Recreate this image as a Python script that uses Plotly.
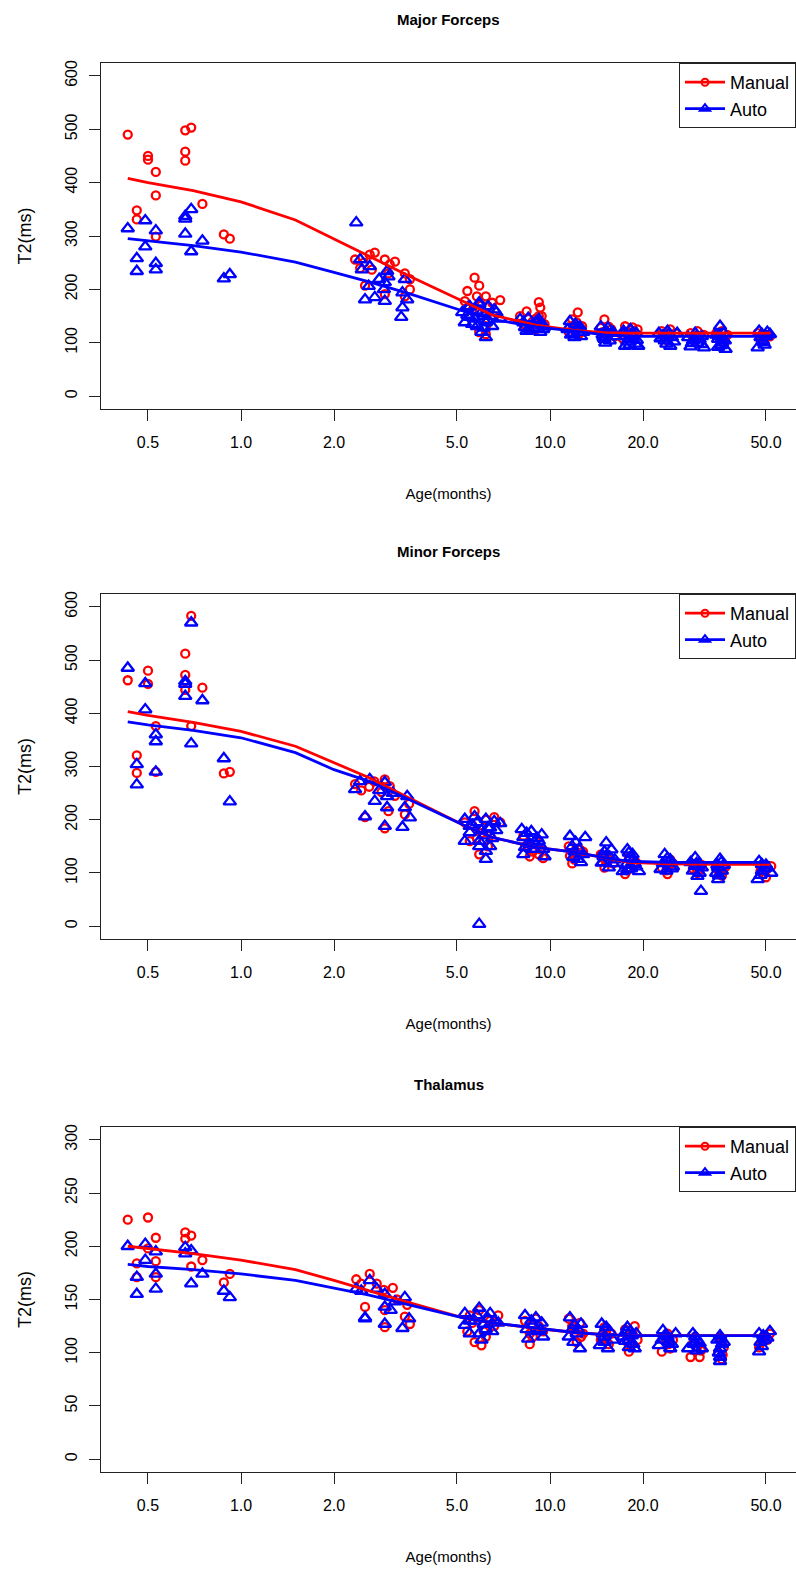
import plotly.graph_objects as go

# ---------------- data ----------------
# Fitted curves (shared x positions)
fit_age = [0.43, 0.5, 0.7, 1.0, 1.5, 2.0, 2.6, 3.5, 5.2, 6.5, 9.0, 12.0, 15.0, 18.0, 24.0, 30.0, 36.0, 51.6]

# Panel 1: Major Forceps
p1_fit_manual = [408, 400, 385, 364, 330, 295, 262, 225, 178, 152, 133, 123, 119, 118, 118, 118, 118, 118]
p1_fit_auto = [295, 291, 282, 270, 251, 232, 214, 192, 160, 144, 130, 122, 115, 112, 112, 112, 112, 112]

p1_age_manual = [0.43, 0.46, 0.46, 0.50, 0.50, 0.53, 0.53, 0.53, 0.66, 0.69, 0.66, 0.66, 0.75, 0.88, 0.92,
                 2.34, 2.43, 2.52, 2.61, 2.71, 2.65, 2.92, 3.03, 2.92, 3.0, 3.15, 3.39, 3.52, 3.52, 3.39, 2.5,
                 5.4, 5.3, 5.7, 5.9, 5.8, 6.2, 6.3, 6.9, 6.2, 5.9, 6.2, 5.6, 6.0, 6.5, 6.6,
                 8.0, 8.4, 9.2, 9.3, 9.2, 8.8, 8.6, 9.6, 9.0, 9.4, 8.2, 9.0,
                 12.3, 11.8, 12.7, 12.0, 11.5, 12.5, 12.2, 11.9,
                 15.0, 14.6, 15.8, 15.3, 16.2, 15.5, 14.8,
                 17.5, 18.5, 19.2, 18.0, 18.8, 17.2, 18.2, 18.8, 17.8,
                 23.0, 24.5, 25.5, 23.5, 24.0, 24.5, 23.2,
                 28.5, 30.0, 31.5, 29.5, 30.5, 30.5, 29.0,
                 34.5, 36.0, 37.5, 35.5, 36.5, 36.0, 35.0,
                 47.0, 49.0, 51.5, 48.0, 50.0, 48.5]
p1_t2_manual = [490, 348, 331, 450, 443, 420, 376, 299, 498, 503, 458, 441, 360, 303, 295,
                256, 240, 207, 265, 269, 237, 256, 247, 191, 230, 252, 230, 219, 200, 187, 250,
                197, 178, 222, 207, 187, 187, 168, 180, 131, 120, 116, 160, 170, 175, 150,
                150, 159, 176, 166, 150, 140, 130, 135, 125, 150, 135, 145,
                157, 144, 131, 125, 120, 118, 138, 132,
                144, 128, 125, 118, 112, 130, 120,
                131, 129, 125, 118, 112, 108, 124, 120, 115,
                122, 125, 118, 110, 104, 114, 116,
                118, 122, 115, 106, 100, 112, 110,
                118, 122, 115, 105, 98, 110, 113,
                118, 112, 112, 105, 115, 110]
p1_age_auto = [0.43, 0.46, 0.46, 0.49, 0.49, 0.53, 0.53, 0.53, 0.66, 0.66, 0.66, 0.69, 0.69, 0.75, 0.88, 0.92, 2.36,
               2.43, 2.46, 2.61, 2.59, 2.52, 2.71, 2.92, 2.97, 3.0, 2.92, 2.90, 3.39, 3.33, 3.45, 3.33, 3.30, 2.8,
               5.2, 5.5, 5.9, 6.3, 6.7, 5.3, 5.8, 6.2, 6.5, 6.2, 5.5, 6.0, 5.7, 6.1, 6.9, 5.4, 6.4,
               5.4, 5.8, 6.1, 6.6, 6.0, 5.6, 6.3, 5.9,
               8.0, 8.5, 9.2, 8.3, 9.5, 8.8, 9.0, 9.6, 8.6, 9.3, 8.2, 8.9, 9.4, 8.4, 9.1,
               11.6, 12.2, 12.0, 12.8, 11.4, 12.5, 11.9, 12.1, 11.7, 12.6, 12.3,
               14.6, 15.2, 15.8, 15.0, 16.3, 14.8, 15.4, 14.9, 15.6, 15.1, 16.0,
               17.3, 18.2, 19.0, 18.0, 17.5, 19.3, 18.6, 17.8, 18.3, 17.6, 19.1, 18.9, 17.4, 18.1,
               22.5, 24.0, 25.8, 23.5, 24.5, 22.8, 23.2, 24.8, 23.8, 25.2, 24.2,
               28.0, 29.5, 31.0, 30.0, 28.5, 31.5, 29.0, 30.5, 29.8, 31.0, 28.8,
               35.5, 34.5, 36.5, 35.0, 36.0, 37.0, 35.2, 36.2, 35.8, 36.8, 35.0,
               47.5, 51.5, 48.0, 49.0, 47.0, 48.5, 50.0, 48.8, 49.5, 50.5]
p1_t2_auto = [314, 258, 234, 329, 280, 310, 249, 237, 337, 332, 304, 350, 271, 291, 220, 228, 325,
              256, 237, 243, 206, 181, 185, 178, 234, 224, 213, 200, 219, 194, 181, 166, 148, 219,
              157, 168, 175, 168, 157, 138, 131, 138, 131, 110, 148, 157, 145, 150, 145, 165, 150,
              152, 160, 128, 162, 120, 135, 142, 172,
              144, 146, 144, 129, 125, 135, 138, 130, 125, 120, 138, 128, 132, 122, 140,
              140, 125, 110, 120, 125, 130, 118, 135, 115, 112, 128,
              130, 122, 118, 107, 112, 115, 128, 110, 104, 100, 120,
              122, 125, 118, 107, 94, 94, 112, 102, 116, 112, 105, 98, 118, 96,
              118, 122, 118, 104, 94, 108, 113, 110, 98, 102, 116,
              110, 118, 112, 100, 93, 91, 104, 106, 112, 97, 99,
              131, 115, 118, 107, 100, 88, 112, 108, 95, 104, 92,
              122, 116, 110, 101, 91, 116, 112, 104, 96, 120]

# Panel 2: Minor Forceps
p2_fit_manual = [403, 396, 383, 366, 338, 307, 279, 241, 191, 167, 148, 139, 128, 120, 117, 116, 116, 116]
p2_fit_auto = [384, 378, 368, 354, 326, 294, 272, 238, 191, 167, 148, 139, 129, 122, 120, 120, 120, 120]

p2_age_manual = [0.43, 0.46, 0.46, 0.50, 0.50, 0.53, 0.53, 0.66, 0.66, 0.66, 0.69, 0.69, 0.75, 0.88, 0.92,
                 2.34, 2.45, 2.6, 2.7, 2.92, 3.03, 2.85, 3.0, 2.92, 3.39, 3.5, 3.15, 2.52,
                 5.7, 5.9, 5.3, 5.6, 6.2, 6.6, 6.9, 6.0, 6.4, 5.5, 6.3, 5.8,
                 8.3, 8.6, 9.5, 9.0, 8.2, 9.3, 8.8, 8.5, 9.2,
                 12.5, 11.8, 11.5, 12.2, 12.0, 12.8, 11.6,
                 15.0, 15.5, 14.6, 16.0, 15.2, 14.9,
                 17.5, 18.2, 19.0, 18.0, 18.5, 17.8,
                 24.0, 23.0, 25.0, 24.5, 23.8, 24.2,
                 30.0, 29.0, 31.0, 30.5, 29.5,
                 36.0, 35.0, 37.0, 35.5, 36.5,
                 50.0, 52.0, 48.0, 49.0, 50.5]
p2_t2_manual = [462, 321, 288, 480, 455, 376, 290, 512, 472, 444, 583, 376, 448, 287, 290,
                267, 255, 262, 272, 276, 263, 252, 216, 184, 210, 230, 245, 205,
                216, 135, 195, 190, 200, 205, 195, 175, 170, 160, 150, 165,
                150, 131, 128, 160, 170, 145, 140, 150, 135,
                144, 118, 150, 135, 125, 140, 132,
                110, 125, 135, 118, 120, 128,
                98, 110, 120, 130, 115, 105,
                98, 110, 118, 125, 105, 115,
                100, 108, 115, 105, 112,
                95, 105, 112, 100, 108,
                92, 113, 104, 98, 108]
p2_age_auto = [0.43, 0.46, 0.46, 0.49, 0.49, 0.53, 0.53, 0.53, 0.66, 0.66, 0.66, 0.69, 0.69, 0.75, 0.88, 0.92,
               2.34, 2.43, 2.52, 2.61, 2.71, 2.92, 2.97, 2.97, 2.92, 3.39, 3.45, 3.52, 3.33, 2.8, 3.1,
               5.9, 5.3, 5.7, 6.2, 6.6, 6.9, 5.5, 6.0, 5.3, 5.9, 6.2, 6.2, 6.4, 5.6, 6.5,
               5.8, 6.3, 5.5, 6.1, 6.7, 5.9, 6.4,
               8.1, 8.7, 9.4, 8.2, 8.6, 9.0, 8.2, 9.6, 9.2, 8.8, 8.4, 9.1, 8.9, 9.5, 8.3,
               11.6, 13.0, 11.8, 12.3, 12.6, 12.0, 12.8, 12.1, 11.9, 12.4,
               15.2, 15.8, 14.9, 14.7, 16.2, 15.5, 15.0, 15.6, 14.8, 16.0,
               17.8, 18.2, 17.8, 17.2, 19.4, 18.8, 18.5, 18.0, 18.6, 17.6, 19.0, 18.3,
               23.5, 24.2, 22.8, 25.0, 24.5, 24.0, 23.2, 24.8, 23.8,
               29.5, 29.5, 30.0, 30.8, 28.5, 31.0, 29.8, 29.0, 30.5, 30.2,
               35.5, 35.0, 35.0, 36.5, 34.5, 35.8, 36.0, 35.2, 34.8,
               47.5, 48.5, 47.0, 50.5, 52.0, 48.5, 49.5, 48.0, 50.0]
p2_t2_auto = [485, 304, 266, 456, 407, 360, 347, 290, 460, 455, 432, 570, 343, 424, 315, 234,
              257, 272, 206, 276, 235, 270, 244, 223, 188, 223, 244, 204, 186, 255, 250,
              4, 201, 206, 201, 197, 193, 176, 180, 160, 150, 141, 126, 185, 190, 165,
              195, 185, 188, 170, 180, 160, 150,
              182, 178, 172, 167, 154, 152, 135, 131, 160, 145, 175, 165, 158, 145, 148,
              169, 167, 150, 126, 120, 140, 135, 158, 130, 145,
              157, 144, 131, 119, 125, 110, 140, 130, 120, 118,
              144, 129, 107, 103, 103, 118, 135, 138, 125, 115, 112, 108,
              135, 119, 107, 112, 125, 128, 118, 108, 104,
              129, 113, 94, 66, 120, 110, 118, 104, 100, 115,
              126, 110, 88, 115, 100, 120, 104, 95, 115,
              122, 104, 88, 110, 100, 116, 108, 96, 115]

# Panel 3: Thalamus
p3_fit_manual = [200, 198, 193, 187, 178, 168, 158, 147, 133, 128, 123, 119, 117, 116, 116, 116, 116, 116]
p3_fit_auto = [183, 181, 178, 174, 168, 161, 154, 145, 133, 128, 123, 119, 117, 116, 116, 116, 116, 116]

p3_age_manual = [0.43, 0.46, 0.46, 0.50, 0.50, 0.53, 0.53, 0.53, 0.66, 0.66, 0.69, 0.69, 0.75, 0.88, 0.92,
                 2.36, 2.52, 2.61, 2.9, 3.1, 2.92, 3.39, 2.92, 3.52, 2.45, 2.75, 3.2, 3.45,
                 5.5, 5.9, 6.3, 6.0, 5.7, 6.6, 5.4, 6.2, 6.8, 5.6, 6.1, 6.4,
                 8.6, 8.3, 9.0, 9.5, 8.8, 9.2, 8.6,
                 11.8, 12.5, 12.2, 12.8, 11.5, 12.0, 12.6,
                 15.0, 14.6, 15.8, 15.5, 15.2, 14.9,
                 18.0, 17.5, 18.8, 19.2, 18.3, 18.5, 17.8,
                 23.0, 24.0, 25.0, 24.5, 23.8, 24.2,
                 28.5, 30.5, 29.5, 30.0, 29.2, 30.8,
                 36.0, 35.5, 36.5, 35.0, 35.8, 36.2,
                 47.5, 49.0, 51.5, 48.5, 50.5]
p3_t2_manual = [225, 184, 171, 227, 198, 208, 186, 171, 213, 207, 210, 181, 187, 166, 174,
                169, 143, 174, 159, 161, 140, 134, 124, 127, 165, 165, 150, 145,
                135, 140, 132, 107, 110, 125, 120, 115, 135, 128, 120, 130,
                108, 130, 132, 120, 115, 125, 118,
                125, 128, 110, 118, 132, 122, 115,
                124, 112, 118, 108, 120, 115,
                101, 122, 125, 112, 108, 118, 110,
                101, 118, 112, 104, 112, 108,
                96, 96, 115, 106, 110, 102,
                94, 115, 105, 100, 110, 98,
                105, 115, 118, 110, 112]
p3_age_auto = [0.43, 0.46, 0.46, 0.49, 0.49, 0.53, 0.53, 0.53, 0.66, 0.66, 0.69, 0.69, 0.75, 0.88, 0.92,
               2.36, 2.52, 2.61, 2.92, 2.92, 2.52, 2.92, 3.39, 3.5, 3.33, 2.45, 2.75, 3.15, 3.05,
               5.3, 5.9, 6.4, 5.5, 6.0, 5.3, 6.6, 5.7, 6.2, 6.8, 5.8, 6.1, 5.5, 6.5, 5.9, 6.3,
               8.3, 9.0, 9.5, 8.5, 8.8, 9.3, 8.7, 9.1, 9.4, 8.4,
               11.6, 11.8, 12.5, 12.6, 11.5, 12.2, 12.0, 11.9, 12.3,
               14.7, 15.0, 14.5, 15.6, 16.0, 15.2, 15.0, 15.4, 14.8,
               17.8, 17.5, 18.0, 19.0, 18.6, 17.2, 18.2, 18.0, 18.8, 17.6, 18.4,
               23.2, 22.5, 24.5, 24.0, 25.5, 23.5, 24.2, 23.0, 24.8,
               29.0, 28.0, 31.0, 30.0, 29.5, 29.5, 29.2, 30.5, 29.8,
               35.5, 35.5, 35.5, 36.5, 34.8, 35.8, 35.2, 36.0, 35.5,
               47.5, 51.5, 47.5, 49.5, 48.0, 49.0, 48.5, 50.5]
p3_t2_auto = [200, 171, 155, 202, 187, 195, 174, 160, 199, 193, 196, 165, 174, 158, 152,
              160, 133, 168, 155, 143, 132, 127, 152, 132, 123, 158, 160, 148, 140,
              137, 142, 137, 118, 112, 126, 130, 130, 122, 128, 135, 127, 130, 120, 118, 132,
              135, 133, 115, 113, 126, 122, 130, 120, 128, 122,
              133, 122, 104, 127, 115, 118, 126, 110, 122,
              127, 115, 107, 120, 112, 124, 110, 104, 118,
              124, 111, 105, 118, 108, 115, 120, 112, 104, 120, 116,
              121, 107, 104, 115, 118, 116, 110, 112, 108,
              118, 104, 104, 112, 110, 115, 108, 109, 102,
              116, 104, 96, 110, 112, 113, 100, 108, 92,
              118, 120, 101, 112, 110, 116, 106, 114]

titles = ["Major Forceps", "Minor Forceps", "Thalamus"]
x_tickvals = [0.5, 1, 2, 5, 10, 20, 50]
x_ticktext = ["0.5", "1.0", "2.0", "5.0", "10.0", "20.0", "50.0"]
y_ticks_forceps = [0, 100, 200, 300, 400, 500, 600]
y_ticks_thal = [0, 50, 100, 150, 200, 250, 300]

# ---------------- figure ----------------
W, H = 796, 1570
RED = "#FF0000"
BLUE = "#0000FF"
FONT = "Liberation Sans, Arial, Helvetica, sans-serif"

panels = [
    dict(title=titles[0], am=p1_age_manual, tm=p1_t2_manual, aa=p1_age_auto, ta=p1_t2_auto,
         fm=p1_fit_manual, fa=p1_fit_auto, yr=[-24, 624], yt=y_ticks_forceps, top=63, bot=409),
    dict(title=titles[1], am=p2_age_manual, tm=p2_t2_manual, aa=p2_age_auto, ta=p2_t2_auto,
         fm=p2_fit_manual, fa=p2_fit_auto, yr=[-24, 624], yt=y_ticks_forceps, top=594, bot=939),
    dict(title=titles[2], am=p3_age_manual, tm=p3_t2_manual, aa=p3_age_auto, ta=p3_t2_auto,
         fm=p3_fit_manual, fa=p3_fit_auto, yr=[-12, 312], yt=y_ticks_thal, top=1127, bot=1472),
]

fig = go.Figure()
layout = dict(
    width=W, height=H,
    margin=dict(l=101, r=0, t=0, b=0),
    paper_bgcolor="white", plot_bgcolor="white",
    font=dict(family=FONT, color="black", size=15),
    showlegend=True,
    annotations=[],
)

for i, p in enumerate(panels, start=1):
    xa = "x" if i == 1 else f"x{i}"
    ya = "y" if i == 1 else f"y{i}"
    lg = "legend" if i == 1 else f"legend{i}"
    fig.add_trace(go.Scatter(x=p["am"], y=p["tm"], mode="markers", xaxis=xa, yaxis=ya,
                             marker=dict(symbol="circle-open", size=8, color=RED, line=dict(width=2.3, color=RED)),
                             showlegend=False, name="Manual"))
    fig.add_trace(go.Scatter(x=p["aa"], y=p["ta"], mode="markers", xaxis=xa, yaxis=ya,
                             marker=dict(symbol="triangle-up-open", size=11, color=BLUE, line=dict(width=2.3, color=BLUE)),
                             showlegend=False, name="Auto"))
    fig.add_trace(go.Scatter(x=fit_age, y=p["fm"], mode="lines", xaxis=xa, yaxis=ya,
                             line=dict(color=RED, width=2.8), showlegend=False, name="Manual"))
    fig.add_trace(go.Scatter(x=fit_age, y=p["fa"], mode="lines", xaxis=xa, yaxis=ya,
                             line=dict(color=BLUE, width=2.8), showlegend=False, name="Auto"))
    fig.add_trace(go.Scatter(x=[None], y=[None], mode="lines+markers", xaxis=xa, yaxis=ya, legend=lg,
                             line=dict(color=RED, width=2.8),
                             marker=dict(symbol="circle-open", size=7, color=RED, line=dict(width=2, color=RED)),
                             name="Manual"))
    fig.add_trace(go.Scatter(x=[None], y=[None], mode="lines+markers", xaxis=xa, yaxis=ya, legend=lg,
                             line=dict(color=BLUE, width=2.8),
                             marker=dict(symbol="triangle-up-open", size=9, color=BLUE, line=dict(width=2, color=BLUE)),
                             name="Auto"))

    d0 = 1 - p["bot"] / H
    d1 = 1 - p["top"] / H
    layout[f"xaxis{'' if i == 1 else i}"] = dict(
        type="log", range=[-0.4531, 1.7961], domain=[0, 1], anchor=ya,
        tickvals=x_tickvals, ticktext=x_ticktext, ticks="outside", ticklen=11, tickwidth=1,
        tickcolor="#222", showline=True, linecolor="#222", linewidth=1, mirror=True,
        showgrid=False, zeroline=False, tickfont=dict(size=16), ticklabelstandoff=8,
        title=dict(text="Age(months)", font=dict(size=15), standoff=38),
        automargin=False,
    )
    layout[f"yaxis{'' if i == 1 else i}"] = dict(
        range=p["yr"], domain=[d0, d1], anchor=xa,
        tickvals=p["yt"], ticks="outside", ticklen=11, tickwidth=1, tickangle=-90,
        tickcolor="#222", showline=True, linecolor="#222", linewidth=1, mirror=True,
        showgrid=False, zeroline=False, tickfont=dict(size=16), ticklabelstandoff=6,
        title=dict(text="T2(ms)", font=dict(size=18), standoff=26),
        automargin=False,
    )
    layout[lg] = dict(
        x=1, xanchor="right", y=d1, yanchor="top", xref="paper", yref="paper",
        bgcolor="white", bordercolor="#222", borderwidth=1,
        font=dict(size=18), itemwidth=40, tracegroupgap=0,
    )
    layout["annotations"].append(dict(
        text=f"<b>{p['title']}</b>", x=0.5, xref="paper", xanchor="center",
        y=1 - (p["top"] - 43) / H, yref="paper", yanchor="middle", showarrow=False,
        font=dict(size=15),
    ))

fig.update_layout(**layout)
fig.write_html("out.html",
               config={"displayModeBar": False},
               post_script="document.body.style.margin='0px';document.body.style.overflow='hidden';")
